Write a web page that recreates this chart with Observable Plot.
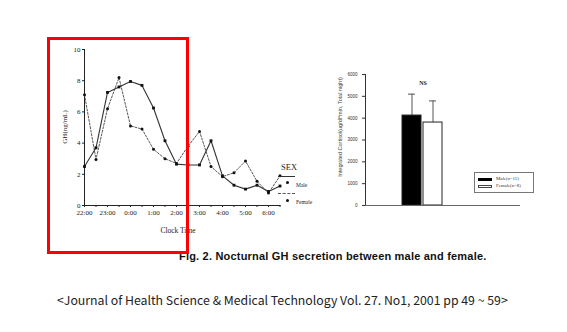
<!DOCTYPE html>
<html><head><meta charset="utf-8">
<script src="https://cdn.jsdelivr.net/npm/d3@7"></script>
<script src="https://cdn.jsdelivr.net/npm/@observablehq/plot@0.6"></script>
<style>
body{margin:0;background:#fff;}
#wrap{position:relative;width:567px;height:332px;background:#fff;overflow:hidden;}
#wrap svg{position:absolute;left:0;top:0;}
#wrap svg.ghplot text{font-family:"Liberation Serif","DejaVu Serif",serif;font-weight:normal;}
.t{position:absolute;white-space:nowrap;line-height:1;color:#222;}
.serif{font-family:"Liberation Serif","DejaVu Serif",serif;}
.sans{font-family:"Liberation Sans",Arial,sans-serif;}
</style></head><body><div id="wrap"></div>
<script>
// ---- Line chart data (GH, ng/mL) ----
const clockTimes = ["22:00","22:30","23:00","23:30","0:00","0:30","1:00","1:30","2:00","2:30","3:00","3:30","4:00","4:30","5:00","5:30","6:00","6:30"];
const maleGH   = [2.5,3.7,7.25,7.6,7.95,7.7,6.25,4.15,2.65,2.6,2.6,4.15,1.9,1.3,1.05,1.3,0.9,1.25];
const femaleGH = [7.1,2.95,6.2,8.2,5.1,4.9,3.6,3.0,2.7,3.8,4.75,2.5,1.85,2.1,2.85,1.55,0.8,1.9];
const hourLabels = ["22:00","23:00","0:00","1:00","2:00","3:00","4:00","5:00","6:00"];
const ghTicks = [0,2,4,6,8,10];

// ---- Bar chart data (Integrated cortisol) ----
const sexes = ["Male(n=11)","Female(n=8)"];
const cortisolMean = [4120,3800];
const cortisolSD = [980,990];
const cortisolTicks = [0,1000,2000,3000,4000,5000,6000];

// helpers
const toHour = s => { const [h,m] = s.split(":").map(Number); return (h < 12 ? h + 24 : h) + m/60; };
const ghData = clockTimes.flatMap((c,i) => [
  {t: toHour(c), gh: maleGH[i], sex: "Male"},
  {t: toHour(c), gh: femaleGH[i], sex: "Female"}
]);
const male = ghData.filter(d => d.sex === "Male");
const female = ghData.filter(d => d.sex === "Female");
const labelSet = new Set(hourLabels.map(toHour));
const fmtHour = v => labelSet.has(v) ? hourLabels.find(l => toHour(l) === v) : "";

const W = 567, H = 332;
const gh = Plot.plot({
  className: "ghplot",
  width: W, height: H,
  marginLeft: 84, marginRight: W - 279.5, marginTop: 49, marginBottom: H - 205,
  style: {background: "transparent", fontSize: "7px", color: "#222"},
  x: {domain: [22, 30.5], ticks: clockTimes.map(toHour), tickFormat: fmtHour, tickSize: 2, tickPadding: 3, line: true, label: null},
  y: {domain: [0, 10], ticks: ghTicks, tickSize: 2, tickPadding: 2, line: true, label: null},
  marks: [
    Plot.line(female, {x: "t", y: "gh", stroke: "#444", strokeWidth: 0.9, strokeDasharray: "2,1.6"}),
    Plot.line(male, {x: "t", y: "gh", stroke: "#333", strokeWidth: 1.1}),
    Plot.dot(female, {x: "t", y: "gh", r: 1.5, fill: "#111", stroke: "none"}),
    Plot.dot(male, {x: "t", y: "gh", r: 1.6, fill: "#111", stroke: "none", symbol: "square"})
  ]
});

const barData = sexes.map((s,i) => ({sex: s, mean: cortisolMean[i], upper: cortisolMean[i] + cortisolSD[i]}));
const bar = Plot.plot({
  width: W, height: H,
  marginLeft: 365, marginRight: 47, marginTop: 74, marginBottom: H - 205,
  style: {background: "transparent", fontFamily: "Liberation Sans, sans-serif", fontSize: "4.5px", color: "#333"},
  x: {domain: sexes, range: [402, 442], paddingInner: 0.1, paddingOuter: 0, axis: null},
  y: {domain: [0, 6000], ticks: cortisolTicks, tickFormat: d => String(d), tickSize: 3, tickPadding: 5, line: true, label: null},
  marks: [
    Plot.ruleX(barData, {x: "sex", y1: "mean", y2: "upper", stroke: "#555", strokeWidth: 1}),
    Plot.tickY(barData, {x: "sex", y: "upper", stroke: "#555", strokeWidth: 1, insetLeft: 6, insetRight: 6}),
    Plot.barY(barData, {x: "sex", y: "mean", fill: (d,i) => i === 0 ? "#000" : "#fff", stroke: "#222", strokeWidth: 1}),
    Plot.ruleY([0], {stroke: "#666", strokeWidth: 1})
  ]
});

const wrap = document.getElementById("wrap");
wrap.appendChild(gh);
wrap.appendChild(bar);

function addText(txt, cls, css) {
  const d = document.createElement("div");
  d.className = "t " + cls;
  d.textContent = txt;
  Object.assign(d.style, css);
  wrap.appendChild(d);
  return d;
}
function addBox(css) {
  const d = document.createElement("div");
  d.style.position = "absolute";
  Object.assign(d.style, css);
  wrap.appendChild(d);
  return d;
}
// line chart annotations
addText("GH(ng/mL)", "serif", {left: "65px", top: "127px", fontSize: "7px", transform: "translate(-50%,-50%) rotate(-90deg)"});
addText("Clock Time", "serif", {left: "178px", top: "231px", fontSize: "7.5px", transform: "translate(-50%,-50%)"});
addText("SEX", "serif", {left: "281px", top: "163px", fontSize: "8.5px"});
addBox({left: "278px", top: "176px", width: "17px", borderTop: "1px solid #333"});
addBox({left: "286px", top: "181px", width: "3px", height: "3px", background: "#111", borderRadius: "50%"});
addText("Male", "serif", {left: "296px", top: "183px", fontSize: "5.5px"});
addBox({left: "278px", top: "193px", width: "17px", borderTop: "1px dashed #555"});
addBox({left: "286px", top: "199px", width: "3px", height: "3px", background: "#111", borderRadius: "50%"});
addText("Female", "serif", {left: "296px", top: "200px", fontSize: "5.5px"});

// bar chart annotations
addText("Integrated Cortisol(ug/dl*min, Total night)", "sans", {left: "341px", top: "127px", fontSize: "5.5px", color: "#444", transform: "translate(-50%,-50%) rotate(-90deg)"});
addText("NS", "serif", {left: "423px", top: "83px", fontSize: "6px", fontWeight: "bold", transform: "translate(-50%,-50%)"});
addBox({left: "474px", top: "172px", width: "60px", height: "21px", border: "1px solid #777", boxSizing: "border-box"});
addBox({left: "478px", top: "178px", width: "14px", height: "3px", background: "#000"});
addBox({left: "478px", top: "185px", width: "14px", height: "3px", border: "1px solid #444", boxSizing: "border-box"});
addText(sexes[0], "serif", {left: "496px", top: "177px", fontSize: "4.8px", color: "#333"});
addText(sexes[1], "serif", {left: "496px", top: "184px", fontSize: "4.8px", color: "#333"});

// captions
addText("Fig. 2. Nocturnal GH secretion between male and female.", "sans", {left: "179px", top: "251px", fontSize: "11px", letterSpacing: "0.2px", fontWeight: "bold", color: "#111"});
addText("<Journal of Health Science & Medical Technology Vol. 27. No1, 2001 pp 49 ~ 59>", "", {left: "57px", top: "294px", fontSize: "12.3px", fontFamily: "'Noto Sans CJK KR','Noto Sans',sans-serif", color: "#222"});

// red highlight rectangle
addBox({left: "47px", top: "37px", width: "142px", height: "217px", border: "3px solid #f00", boxSizing: "border-box"});
</script></body></html>
